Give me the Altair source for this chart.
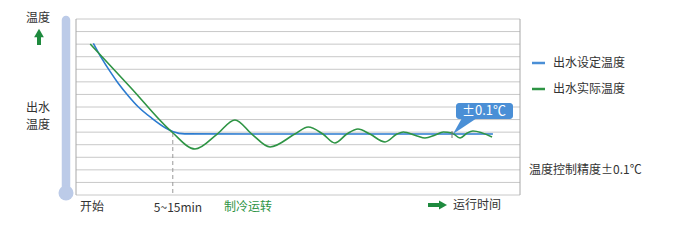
import altair as alt
import pandas as pd

# ---- data (time in arbitrary units 0-100, temperature in grid units 0-14)
time_set = [3.9, 5.8, 7.7, 9.5, 11.8, 14.0, 17.1, 20.1, 21.9, 24.5, 40.0, 93.9]
temp_set = [12.07, 10.87, 9.81, 8.89, 7.88, 7.02, 6.10, 5.35, 5.03, 4.86, 4.85, 4.85]

time_act = [3.2, 12.4, 21.6, 26.8, 31.8, 35.8, 39.6, 43.7, 49.3, 52.3,
            55.6, 58.3, 61.0, 63.5, 66.2, 69.6, 72.3, 73.7, 76.8, 78.6, 80.9, 82.7,
            84.7, 86.5, 88.1, 89.4, 93.7]
temp_act = [12.01, 8.51, 5.01, 3.66, 4.85, 5.97, 4.85, 3.82, 4.85, 5.41,
            4.85, 4.14, 4.85, 5.25, 4.85, 4.22, 4.85, 5.01, 4.69, 4.53, 4.77, 5.01,
            4.93, 4.53, 4.93, 5.09, 4.61]

grid_levels = list(range(15))
settle_time = 21.8
settle_temp = 4.93
series_names = ["出水设定温度", "出水实际温度"]
callout_text = "±0.1℃"
accuracy_text = "温度控制精度±0.1℃"
y_title = ["温度", "出水", "温度"]
x_labels = ["开始", "5~15min", "制冷运转", "运行时间"]

BLUE = "#2b7bd0"
GREEN = "#2e9444"
TXT = "#333333"
FONT = "Noto Sans CJK SC"

xs = alt.Scale(domain=[0, 100], range=[76, 520])
ys = alt.Scale(domain=[0, 14], range=[195, 19])

df_set = pd.DataFrame({"t": time_set, "v": temp_set})
df_act = pd.DataFrame({"t": time_act, "v": temp_act})
df_grid = pd.DataFrame({"v": grid_levels})
df_settle = pd.DataFrame({"t": [settle_time], "v": [settle_temp], "v0": [0]})

base = alt.Chart(pd.DataFrame({"a": [0]}))

grid = alt.Chart(df_grid).mark_rule(color="#c8c8c8", strokeWidth=1).encode(
    y=alt.Y("v:Q", scale=ys, axis=None),
    x=alt.value(76), x2=alt.value(520))
left_border = base.mark_rule(color="#a8a8a8", strokeWidth=1).encode(
    x=alt.value(76), y=alt.value(19), y2=alt.value(195))
right_border = base.mark_rule(color="#a8a8a8", strokeWidth=1).encode(
    x=alt.value(520), y=alt.value(19), y2=alt.value(195))

settle = alt.Chart(df_settle).mark_rule(color="#999999", strokeDash=[4, 3], strokeWidth=1).encode(
    x=alt.X("t:Q", scale=xs, axis=None), y=alt.Y("v:Q", scale=ys, axis=None), y2="v0:Q")

line_set = alt.Chart(df_set).mark_line(color=BLUE, strokeWidth=1.6, interpolate="monotone").encode(
    x=alt.X("t:Q", scale=xs, axis=None), y=alt.Y("v:Q", scale=ys, axis=None))
line_act = alt.Chart(df_act).mark_line(color=GREEN, strokeWidth=1.6, interpolate="monotone").encode(
    x=alt.X("t:Q", scale=xs, axis=None), y=alt.Y("v:Q", scale=ys, axis=None))

# thermometer
thermo_bar = base.mark_rule(color="#bccbe8", strokeWidth=8.5, strokeCap="round").encode(
    x=alt.value(66), y=alt.value(20), y2=alt.value(190))
thermo_bulb = base.mark_point(shape="circle", filled=True, color="#bccbe8", size=225, opacity=1).encode(
    x=alt.value(66), y=alt.value(193))

# up arrow
up_shaft = base.mark_rule(color="#1e8a3e", strokeWidth=4).encode(
    x=alt.value(39), y=alt.value(35), y2=alt.value(45))
up_head = base.mark_point(shape="triangle-up", filled=True, color="#1e8a3e", size=95, opacity=1).encode(
    x=alt.value(39), y=alt.value(33))
# right arrow
r_shaft = base.mark_rule(color="#1e8a3e", strokeWidth=4).encode(
    y=alt.value(205), x=alt.value(428), x2=alt.value(441))
r_head = base.mark_point(shape="triangle-right", filled=True, color="#1e8a3e", size=85, opacity=1).encode(
    y=alt.value(205), x=alt.value(443))

# callout
callout_box = base.mark_rect(color="#4a8fd6", cornerRadius=3).encode(
    x=alt.value(456), x2=alt.value(513), y=alt.value(103), y2=alt.value(119))
callout_ptr = base.mark_point(shape="M-2,-8 L13,-8 L-11,8 Z", size=4, filled=True,
                              color="#4a8fd6", opacity=1, strokeWidth=0).encode(
    x=alt.value(464), y=alt.value(126))
callout_tick = base.mark_rule(color="#777777", strokeWidth=1).encode(
    x=alt.value(452), y=alt.value(131), y2=alt.value(138))
callout_lbl = base.mark_text(text=callout_text, color="white", fontSize=13, font=FONT,
                             align="center", baseline="middle").encode(
    x=alt.value(484), y=alt.value(111))

# legend
leg_blue = base.mark_rule(color="#4a8fd6", strokeWidth=2.5).encode(
    x=alt.value(532), x2=alt.value(545), y=alt.value(63))
leg_green = base.mark_rule(color=GREEN, strokeWidth=2.5).encode(
    x=alt.value(532), x2=alt.value(545), y=alt.value(89))
leg_t1 = base.mark_text(text=series_names[0], color=TXT, fontSize=12, font=FONT,
                        align="left", baseline="middle").encode(x=alt.value(553), y=alt.value(63))
leg_t2 = base.mark_text(text=series_names[1], color=TXT, fontSize=12, font=FONT,
                        align="left", baseline="middle").encode(x=alt.value(553), y=alt.value(89))
acc_t = base.mark_text(text=accuracy_text, color=TXT, fontSize=12, font=FONT,
                       align="left", baseline="middle").encode(x=alt.value(529), y=alt.value(170))

# left titles
yt1 = base.mark_text(text=y_title[0], color=TXT, fontSize=12, font=FONT,
                     align="center", baseline="middle").encode(x=alt.value(38), y=alt.value(18))
yt2 = base.mark_text(text=y_title[1], color=TXT, fontSize=12, font=FONT,
                     align="center", baseline="middle").encode(x=alt.value(38), y=alt.value(108))
yt3 = base.mark_text(text=y_title[2], color=TXT, fontSize=12, font=FONT,
                     align="center", baseline="middle").encode(x=alt.value(38), y=alt.value(125))

# bottom labels
xl1 = base.mark_text(text=x_labels[0], color=TXT, fontSize=12, font=FONT,
                     align="left", baseline="middle").encode(x=alt.value(80), y=alt.value(207))
xl2 = base.mark_text(text=x_labels[1], color=TXT, fontSize=12, font=FONT,
                     align="center", baseline="middle").encode(x=alt.value(178), y=alt.value(208))
xl3 = base.mark_text(text=x_labels[2], color=GREEN, fontSize=12, font=FONT,
                     align="center", baseline="middle").encode(x=alt.value(248), y=alt.value(207))
xl4 = base.mark_text(text=x_labels[3], color=TXT, fontSize=12, font=FONT,
                     align="left", baseline="middle").encode(x=alt.value(453), y=alt.value(205))

chart = alt.layer(
    grid, left_border, right_border, thermo_bar, thermo_bulb, settle,
    line_set, line_act, callout_tick, callout_ptr, callout_box, callout_lbl,
    up_shaft, up_head, r_shaft, r_head,
    leg_blue, leg_green, leg_t1, leg_t2, acc_t, yt1, yt2, yt3, xl1, xl2, xl3, xl4
).properties(
    width=687, height=242, autosize="none", padding=0, background="white"
).configure_view(stroke=None)

chart.save("out.html", embed_options={"renderer": "svg", "actions": False})
